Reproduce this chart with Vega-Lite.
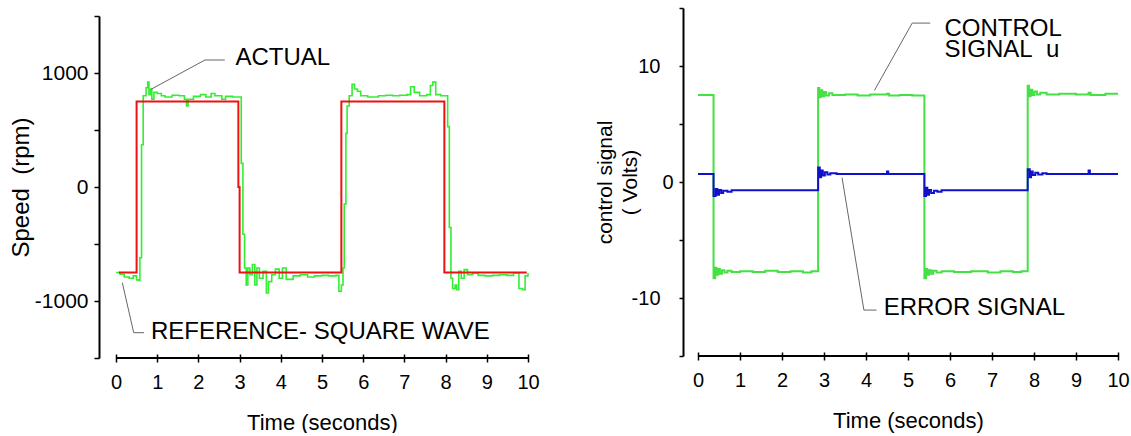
{
  "$schema": "https://vega.github.io/schema/vega-lite/v6.json",
  "padding": {"left": 9, "top": 7, "right": 0, "bottom": 0},
  "background": "white",
  "spacing": 54,
  "config": {
    "view": {"stroke": null},
    "font": "Liberation Sans",
    "axis": {
      "labelFont": "Liberation Sans", "labelFontSize": 20, "labelColor": "#000",
      "titleFont": "Liberation Sans", "titleFontSize": 20, "titleFontWeight": "normal", "titleColor": "#000",
      "domainColor": "#000", "domainWidth": 2, "tickColor": "#000", "tickWidth": 1.5,
      "grid": false, "labelFlush": false, "labelOverlap": false
    }
  },
  "datasets": {
    "ref": [
      {"t": 0.07, "v": -750}, {"t": 0.5, "v": 750}, {"t": 2.97, "v": 0}, {"t": 3.0, "v": -750},
      {"t": 5.47, "v": 750}, {"t": 7.97, "v": -750}, {"t": 9.97, "v": -750}
    ],
    "actual": [
      {"t": 0, "v": -750}, {"t": 0.1, "v": -765}, {"t": 0.2, "v": -790}, {"t": 0.32, "v": -800}, {"t": 0.42, "v": -780},
      {"t": 0.5, "v": -815}, {"t": 0.55, "v": -820}, {"t": 0.58, "v": -620}, {"t": 0.62, "v": 370}, {"t": 0.66, "v": 800},
      {"t": 0.73, "v": 870}, {"t": 0.77, "v": 920}, {"t": 0.8, "v": 810}, {"t": 0.84, "v": 860}, {"t": 0.87, "v": 770},
      {"t": 0.92, "v": 830}, {"t": 1.0, "v": 820}, {"t": 1.1, "v": 800}, {"t": 1.19, "v": 790}, {"t": 1.36, "v": 805},
      {"t": 1.53, "v": 800}, {"t": 1.66, "v": 770}, {"t": 1.71, "v": 710}, {"t": 1.75, "v": 770}, {"t": 1.88, "v": 795},
      {"t": 2.05, "v": 810}, {"t": 2.18, "v": 790}, {"t": 2.31, "v": 820}, {"t": 2.4, "v": 800}, {"t": 2.57, "v": 770},
      {"t": 2.66, "v": 795}, {"t": 2.83, "v": 790}, {"t": 3.04, "v": 207}, {"t": 3.08, "v": -415}, {"t": 3.12, "v": -710},
      {"t": 3.16, "v": -860}, {"t": 3.2, "v": -710}, {"t": 3.25, "v": -770}, {"t": 3.31, "v": -680}, {"t": 3.37, "v": -860},
      {"t": 3.42, "v": -710}, {"t": 3.48, "v": -800}, {"t": 3.57, "v": -740}, {"t": 3.65, "v": -930}, {"t": 3.7, "v": -830},
      {"t": 3.78, "v": -770}, {"t": 3.87, "v": -720}, {"t": 3.96, "v": -800}, {"t": 4.04, "v": -710}, {"t": 4.13, "v": -810},
      {"t": 4.3, "v": -780}, {"t": 4.47, "v": -770}, {"t": 4.65, "v": -790}, {"t": 4.82, "v": -780}, {"t": 4.99, "v": -775},
      {"t": 5.16, "v": -780}, {"t": 5.34, "v": -775}, {"t": 5.41, "v": -915}, {"t": 5.47, "v": -860}, {"t": 5.51, "v": -710},
      {"t": 5.54, "v": -150}, {"t": 5.58, "v": 470}, {"t": 5.61, "v": 710}, {"t": 5.66, "v": 800}, {"t": 5.73, "v": 900},
      {"t": 5.79, "v": 860}, {"t": 5.86, "v": 840}, {"t": 5.94, "v": 800}, {"t": 6.11, "v": 790}, {"t": 6.37, "v": 800},
      {"t": 6.55, "v": 805}, {"t": 6.72, "v": 800}, {"t": 6.89, "v": 805}, {"t": 7.06, "v": 810}, {"t": 7.15, "v": 880},
      {"t": 7.24, "v": 830}, {"t": 7.37, "v": 800}, {"t": 7.54, "v": 810}, {"t": 7.63, "v": 890}, {"t": 7.69, "v": 920},
      {"t": 7.76, "v": 810}, {"t": 7.88, "v": 800}, {"t": 8.05, "v": 530}, {"t": 8.09, "v": -355}, {"t": 8.13, "v": -800},
      {"t": 8.17, "v": -890}, {"t": 8.23, "v": -860}, {"t": 8.27, "v": -900}, {"t": 8.32, "v": -740}, {"t": 8.38, "v": -800},
      {"t": 8.45, "v": -725}, {"t": 8.53, "v": -770}, {"t": 8.66, "v": -755}, {"t": 8.79, "v": -775}, {"t": 8.96, "v": -780},
      {"t": 9.14, "v": -775}, {"t": 9.31, "v": -770}, {"t": 9.48, "v": -775}, {"t": 9.65, "v": -755}, {"t": 9.78, "v": -890},
      {"t": 9.87, "v": -900}, {"t": 9.93, "v": -780}, {"t": 10.0, "v": -755}
    ],
    "control": [
      {"t": 0, "v": 7.5}, {"t": 0.37, "v": -8.3}, {"t": 0.41, "v": -7.4}, {"t": 0.44, "v": -8.0}, {"t": 0.48, "v": -7.5},
      {"t": 0.52, "v": -7.9}, {"t": 0.57, "v": -7.6}, {"t": 0.63, "v": -7.8}, {"t": 0.7, "v": -7.65}, {"t": 0.8, "v": -7.75},
      {"t": 1.0, "v": -7.7}, {"t": 1.3, "v": -7.75}, {"t": 1.6, "v": -7.65}, {"t": 1.9, "v": -7.75}, {"t": 2.2, "v": -7.7},
      {"t": 2.5, "v": -7.8}, {"t": 2.7, "v": -7.7}, {"t": 2.86, "v": 8.1}, {"t": 2.89, "v": 7.3}, {"t": 2.92, "v": 7.9},
      {"t": 2.96, "v": 7.4}, {"t": 3.0, "v": 7.75}, {"t": 3.05, "v": 7.45}, {"t": 3.12, "v": 7.65}, {"t": 3.2, "v": 7.5},
      {"t": 3.5, "v": 7.55}, {"t": 3.8, "v": 7.45}, {"t": 4.1, "v": 7.55}, {"t": 4.5, "v": 7.6}, {"t": 4.55, "v": 7.45},
      {"t": 4.8, "v": 7.5}, {"t": 5.1, "v": 7.45}, {"t": 5.39, "v": -8.3}, {"t": 5.43, "v": -7.5}, {"t": 5.46, "v": -8.0},
      {"t": 5.5, "v": -7.6}, {"t": 5.55, "v": -7.9}, {"t": 5.6, "v": -7.65}, {"t": 5.68, "v": -7.8}, {"t": 5.8, "v": -7.7},
      {"t": 6.1, "v": -7.75}, {"t": 6.5, "v": -7.7}, {"t": 6.9, "v": -7.8}, {"t": 7.2, "v": -7.7}, {"t": 7.5, "v": -7.75},
      {"t": 7.7, "v": -7.7}, {"t": 7.85, "v": 8.3}, {"t": 7.88, "v": 7.4}, {"t": 7.92, "v": 7.95}, {"t": 7.96, "v": 7.5},
      {"t": 8.01, "v": 7.8}, {"t": 8.07, "v": 7.55}, {"t": 8.15, "v": 7.7}, {"t": 8.3, "v": 7.55}, {"t": 8.6, "v": 7.6},
      {"t": 9.0, "v": 7.55}, {"t": 9.3, "v": 7.7}, {"t": 9.35, "v": 7.5}, {"t": 9.7, "v": 7.6}, {"t": 10.0, "v": 7.6}
    ],
    "error": [
      {"t": 0, "v": 0.7}, {"t": 0.37, "v": -1.2}, {"t": 0.42, "v": -0.6}, {"t": 0.46, "v": -1.1}, {"t": 0.5, "v": -0.7},
      {"t": 0.55, "v": -0.95}, {"t": 0.6, "v": -0.75}, {"t": 0.7, "v": -0.85}, {"t": 0.8, "v": -0.72}, {"t": 2.86, "v": 1.25},
      {"t": 2.9, "v": 0.4}, {"t": 2.93, "v": 1.0}, {"t": 2.97, "v": 0.55}, {"t": 3.02, "v": 0.85}, {"t": 3.08, "v": 0.65},
      {"t": 3.15, "v": 0.75}, {"t": 3.3, "v": 0.7}, {"t": 4.5, "v": 0.9}, {"t": 4.53, "v": 0.7}, {"t": 5.39, "v": -1.2},
      {"t": 5.43, "v": -0.5}, {"t": 5.46, "v": -1.1}, {"t": 5.5, "v": -0.7}, {"t": 5.55, "v": -0.95}, {"t": 5.62, "v": -0.75},
      {"t": 5.7, "v": -0.85}, {"t": 5.8, "v": -0.72}, {"t": 7.85, "v": 1.1}, {"t": 7.9, "v": 0.4}, {"t": 7.93, "v": 0.9},
      {"t": 7.97, "v": 0.6}, {"t": 8.03, "v": 0.8}, {"t": 8.1, "v": 0.65}, {"t": 8.2, "v": 0.75}, {"t": 8.3, "v": 0.7},
      {"t": 9.3, "v": 1.0}, {"t": 9.33, "v": 0.7}, {"t": 10.0, "v": 0.7}
    ],
    "axisL": [{"a": 0, "b": 10, "v": -1500}],
    "axisR": [{"a": 0, "b": 10, "v": -15}],
    "leadL": [
      {"a": 0.85, "p": 857, "b": 2.16, "q": 1114},
      {"a": 2.16, "p": 1114, "b": 2.64, "q": 1114},
      {"a": 0.153, "p": -839, "b": 0.43, "q": -1278},
      {"a": 0.43, "p": -1278, "b": 0.68, "q": -1278}
    ],
    "textL": [
      {"t": 2.9, "v": 1134, "label": "ACTUAL"},
      {"t": 0.85, "v": -1270, "label": "REFERENCE- SQUARE WAVE"}
    ],
    "leadR": [
      {"a": 4.2, "p": 7.89, "b": 5.1, "q": 13.7},
      {"a": 5.1, "p": 13.7, "b": 5.53, "q": 13.7},
      {"a": 3.43, "p": 0.37, "b": 3.95, "q": -11.04},
      {"a": 3.95, "p": -11.04, "b": 4.25, "q": -11.04}
    ],
    "textR": [
      {"t": 5.87, "v": 13.15, "label": "CONTROL"},
      {"t": 5.87, "v": 11.4, "label": "SIGNAL\u00a0\u00a0u"},
      {"t": 4.42, "v": -10.9, "label": "ERROR SIGNAL"}
    ]
  },
  "hconcat": [
    {
      "width": 412,
      "height": 350,
      "layer": [
        {
          "data": {"name": "actual"},
          "mark": {"type": "line", "interpolate": "step-after", "color": "#33ee33", "strokeWidth": 1.6},
          "encoding": {
            "x": {"field": "t", "type": "quantitative", "scale": {"domain": [0, 10], "nice": false},
              "axis": {"title": "Time (seconds)", "titleFontSize": 22, "values": [0,0.5,1,1.5,2,2.5,3,3.5,4,4.5,5,5.5,6,6.5,7,7.5,8,8.5,9,9.5,10],
                "labelExpr": "datum.value % 1 == 0 ? datum.label : ''", "domain": false, "offset": -4, "tickSize": 8,
                "labelPadding": 10, "titlePadding": 20}},
            "y": {"field": "v", "type": "quantitative", "scale": {"domain": [-1500, 1500], "range": [350, 8], "nice": false},
              "axis": {"title": "Speed\u00a0\u00a0(rpm)", "titleFontSize": 24, "values": [-1500,-1000,-500,0,500,1000,1500],
                "labelExpr": "abs(datum.value) == 1000 || datum.value == 0 ? toString(datum.value) : ''",
                "labelFontSize": {"condition": {"test": "abs(datum.value) == 1000 || datum.value == 0", "value": 21}, "value": 0},
                "offset": 17, "tickSize": 5, "labelPadding": 6, "titlePadding": 1}}
          }
        },
        {
          "data": {"name": "ref"},
          "mark": {"type": "line", "interpolate": "step-after", "color": "#ee1111", "strokeWidth": 2},
          "encoding": {"x": {"field": "t", "type": "quantitative"}, "y": {"field": "v", "type": "quantitative"}}
        },
        {
          "data": {"name": "axisL"},
          "mark": {"type": "rule", "color": "#000", "strokeWidth": 2},
          "encoding": {"x": {"field": "a", "type": "quantitative"}, "x2": {"field": "b"}, "y": {"field": "v", "type": "quantitative"}}
        },
        {
          "data": {"name": "leadL"},
          "mark": {"type": "rule", "color": "#666", "strokeWidth": 1},
          "encoding": {"x": {"field": "a", "type": "quantitative"}, "x2": {"field": "b"}, "y": {"field": "p", "type": "quantitative"}, "y2": {"field": "q"}}
        },
        {
          "data": {"name": "textL"},
          "mark": {"type": "text", "align": "left", "baseline": "middle", "fontSize": 24, "font": "Liberation Sans", "color": "#000"},
          "encoding": {"x": {"field": "t", "type": "quantitative"}, "y": {"field": "v", "type": "quantitative"}, "text": {"field": "label"}}
        }
      ]
    },
    {
      "width": 420,
      "height": 348,
      "layer": [
        {
          "data": {"name": "control"},
          "mark": {"type": "line", "interpolate": "step-after", "color": "#44e044", "strokeWidth": 2},
          "encoding": {
            "x": {"field": "t", "type": "quantitative", "scale": {"domain": [0, 10], "nice": false},
              "axis": {"title": "Time (seconds)", "titleFontSize": 22, "values": [0,0.5,1,1.5,2,2.5,3,3.5,4,4.5,5,5.5,6,6.5,7,7.5,8,8.5,9,9.5,10],
                "labelExpr": "datum.value % 1 == 0 ? datum.label : ''", "domain": false, "offset": -4, "tickSize": 8,
                "labelPadding": 10, "titlePadding": 20}},
            "y": {"field": "v", "type": "quantitative", "scale": {"domain": [-15, 15], "nice": false},
              "axis": {"title": ["control signal", "( Volts)"], "titleFontSize": 21, "titleLineHeight": 25, "values": [-15,-10,-5,0,5,10,15],
                "labelExpr": "abs(datum.value) == 10 || datum.value == 0 ? toString(datum.value) : ''",
                "labelFontSize": {"condition": {"test": "abs(datum.value) == 10 || datum.value == 0", "value": 20}, "value": 0},
                "labelPadding": {"condition": {"test": "datum.value == 0", "value": 6}, "value": 19},
                "offset": 15, "tickSize": 4, "titlePadding": -9}}
          }
        },
        {
          "data": {"name": "error"},
          "mark": {"type": "line", "interpolate": "step-after", "color": "#1111cc", "strokeWidth": 2},
          "encoding": {"x": {"field": "t", "type": "quantitative"}, "y": {"field": "v", "type": "quantitative"}}
        },
        {
          "data": {"name": "axisR"},
          "mark": {"type": "rule", "color": "#000", "strokeWidth": 2},
          "encoding": {"x": {"field": "a", "type": "quantitative"}, "x2": {"field": "b"}, "y": {"field": "v", "type": "quantitative"}}
        },
        {
          "data": {"name": "leadR"},
          "mark": {"type": "rule", "color": "#666", "strokeWidth": 1},
          "encoding": {"x": {"field": "a", "type": "quantitative"}, "x2": {"field": "b"}, "y": {"field": "p", "type": "quantitative"}, "y2": {"field": "q"}}
        },
        {
          "data": {"name": "textR"},
          "mark": {"type": "text", "align": "left", "baseline": "middle", "fontSize": 24, "font": "Liberation Sans", "color": "#000"},
          "encoding": {"x": {"field": "t", "type": "quantitative"}, "y": {"field": "v", "type": "quantitative"}, "text": {"field": "label"}}
        }
      ]
    }
  ]
}
